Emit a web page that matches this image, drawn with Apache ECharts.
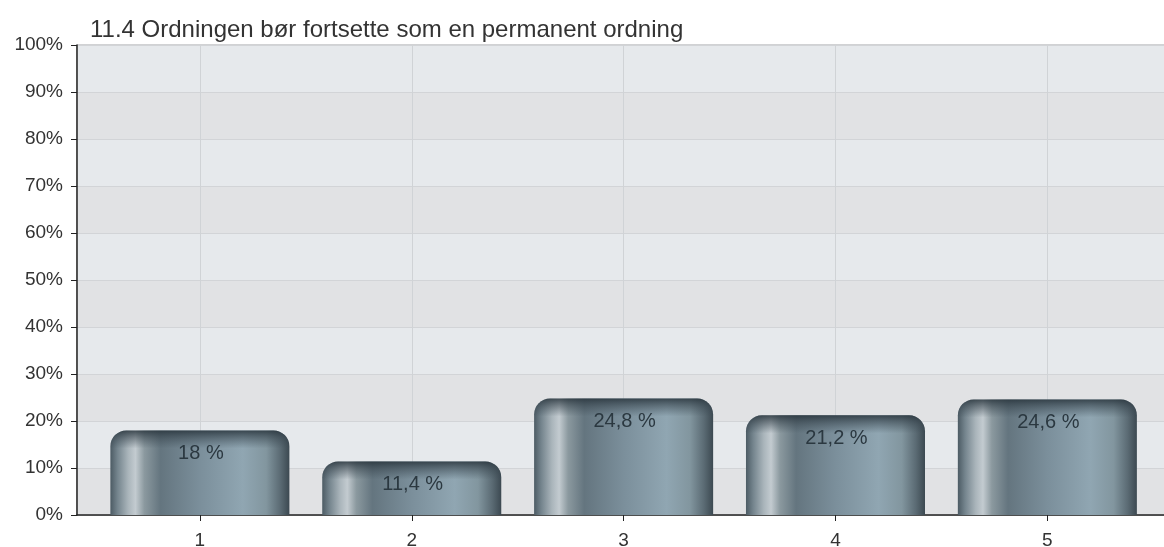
<!DOCTYPE html>
<html>
<head>
<meta charset="utf-8">
<script src="https://cdn.jsdelivr.net/npm/echarts@6.0.0/dist/echarts.min.js"></script>
<style>
  html, body { margin: 0; padding: 0; background: #fff; }
  #chart { width: 1164px; height: 547px; }
</style>
</head>
<body>
<div id="chart"></div>
<script>
const title = "11.4 Ordningen bør fortsette som en permanent ordning";
const categories = ["1", "2", "3", "4", "5"];
const shares = [18, 11.4, 24.8, 21.2, 24.6];
const yTicks = [0, 10, 20, 30, 40, 50, 60, 70, 80, 90, 100];

const font = "Liberation Sans, Arial, sans-serif";
const chart = echarts.init(document.getElementById("chart"), null, { renderer: "canvas" });

const barFill = new echarts.graphic.LinearGradient(0, 0, 1, 0, [
  { offset: 0, color: "#4c5b64" },
  { offset: 0.04, color: "#74848d" },
  { offset: 0.1, color: "#aab5bb" },
  { offset: 0.14, color: "#c3cbd0" },
  { offset: 0.19, color: "#8b999f" },
  { offset: 0.28, color: "#64757f" },
  { offset: 0.5, color: "#7b8f9b" },
  { offset: 0.74, color: "#90a6b2" },
  { offset: 0.87, color: "#82969f" },
  { offset: 0.95, color: "#5a6a73" },
  { offset: 1, color: "#3c4951" },
]);

const capFill = new echarts.graphic.LinearGradient(0, 0, 0, 1, [
  { offset: 0, color: "rgba(40,52,60,0.85)" },
  { offset: 0.5, color: "rgba(55,68,77,0.45)" },
  { offset: 1, color: "rgba(60,75,85,0)" },
]);

function fmt(v) {
  return String(v).replace(".", ",") + " %";
}

function renderBar(params, api) {
  const x = api.value(0);
  const v = api.value(1);
  const top = api.coord([x, v]);
  const base = api.coord([x, 0]);
  const w = api.size([1, 0])[0] * 0.845;
  const left = top[0] - w / 2;
  const h = base[1] - top[1];
  return {
    type: "group",
    children: [
      {
        type: "rect",
        shape: { x: left, y: top[1], width: w, height: h, r: [16, 16, 0, 0] },
        style: { fill: barFill },
      },
      {
        type: "rect",
        shape: { x: left, y: top[1], width: w, height: Math.min(18, h), r: [16, 16, 0, 0] },
        style: { fill: capFill },
      },
      {
        type: "text",
        style: {
          text: fmt(v),
          x: top[0] + 1,
          y: top[1] + 23,
          align: "center",
          verticalAlign: "middle",
          fill: "#2b3840",
          font: "20px " + font,
        },
      },
    ],
  };
}

chart.setOption({
  animation: false,
  backgroundColor: "#ffffff",
  textStyle: { fontFamily: font },
  title: {
    text: title,
    left: 85,
    top: 13,
    textStyle: { fontSize: 24, fontWeight: "normal", color: "#333", fontFamily: font },
  },
  grid: {
    left: 77,
    right: -2,
    top: 45,
    bottom: 32,
    outerBoundsMode: "none",
    containLabel: false,
    show: true,
    borderColor: "#a3a5a8",
    borderWidth: 1,
    backgroundColor: "transparent",
  },
  xAxis: {
    type: "value",
    min: 0.42,
    max: 5.56,
    splitNumber: 5,
    axisLine: { show: true, onZero: false, lineStyle: { color: "#222", width: 1.5 } },
    axisTick: {
      show: true,
      length: 6,
      customValues: categories.map(Number),
      lineStyle: { color: "#222" },
    },
    axisLabel: {
      margin: 16,
      fontSize: 19,
      color: "#333",
      fontFamily: font,
      customValues: categories.map(Number),
      formatter: (v) => categories[Math.round(v) - 1] || "",
    },
    splitLine: { show: true, lineStyle: { color: "#d0d3d6", width: 1 } },
  },
  yAxis: {
    type: "value",
    min: yTicks[0],
    max: yTicks[yTicks.length - 1],
    interval: 10,
    axisLine: { show: true, lineStyle: { color: "#222", width: 1.5 } },
    axisTick: { show: true, length: 6, lineStyle: { color: "#222" } },
    axisLabel: { margin: 14, fontSize: 19, color: "#333", fontFamily: font, formatter: "{value}%" },
    splitLine: { show: true, lineStyle: { color: "#d2d4d7", width: 1 } },
    splitArea: { show: true, areaStyle: { color: ["#e1e2e4", "#e6e9ec"] } },
  },
  series: [
    {
      type: "custom",
      renderItem: renderBar,
      data: categories.map((c, i) => [Number(c), shares[i]]),
      clip: false,
    },
  ],
});
</script>
</body>
</html>
